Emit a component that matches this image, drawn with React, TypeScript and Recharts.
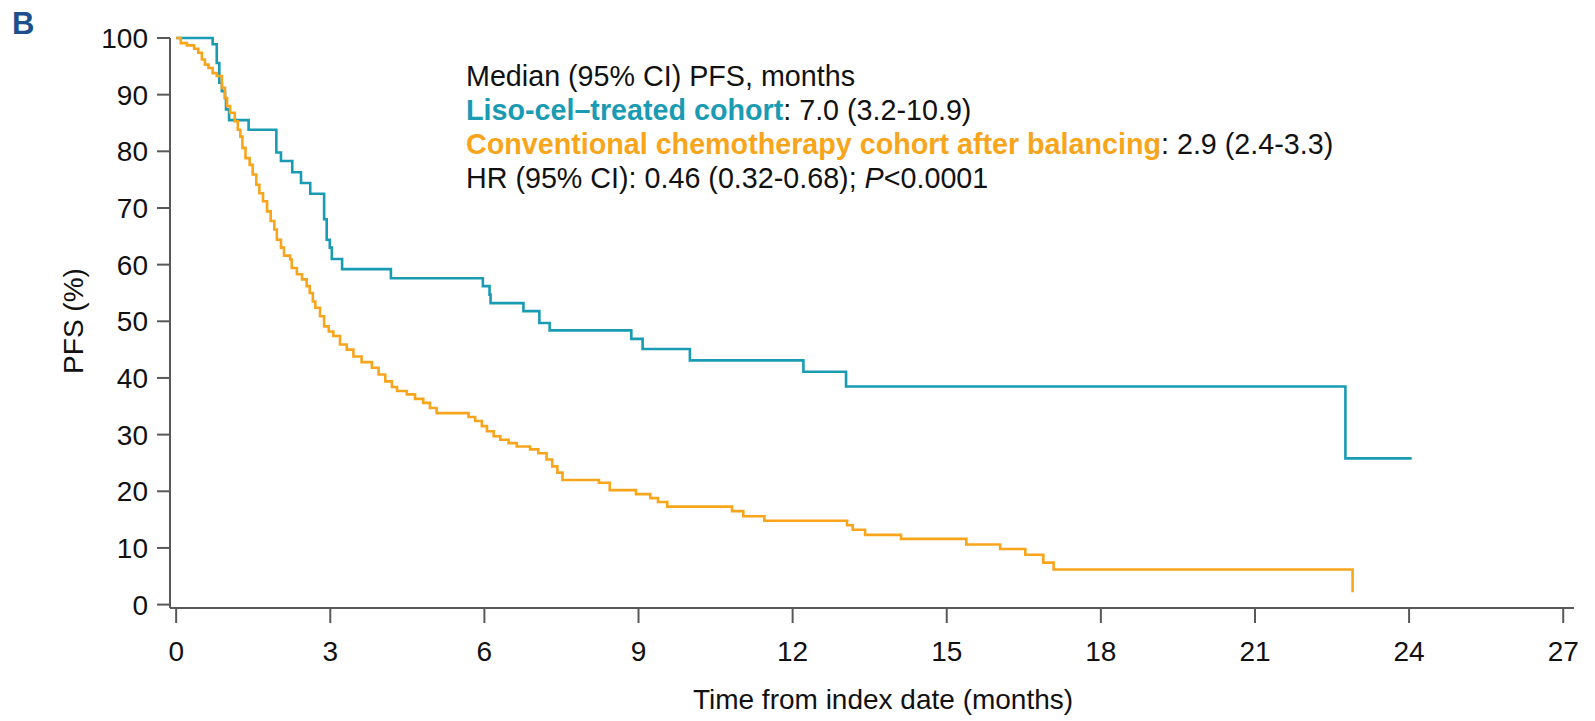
import { LineChart, Line, XAxis, YAxis } from 'recharts';

// Kaplan-Meier steps (months, PFS %)
const lisoTimes = [0, 0.71, 0.79, 0.84, 0.89, 0.95, 0.97, 1.03, 1.41, 1.95, 2.04, 2.26, 2.43, 2.61, 2.88, 2.93, 2.99, 3.03, 3.23, 4.18, 5.97, 6.1, 6.12, 6.76, 7.07, 7.27, 8.86, 9.08, 10.0, 12.21, 13.04, 22.76, 24.05];
const lisoPfs = [100, 98.9, 95.6, 92.1, 90.6, 89.4, 87.4, 85.5, 83.8, 79.8, 78.3, 76.3, 74.4, 72.5, 68.0, 64.4, 63.0, 61.0, 59.2, 57.6, 56.2, 54.7, 53.2, 51.8, 49.7, 48.4, 46.9, 45.1, 43.1, 41.1, 38.5, 25.8, 25.8];

const chemoTimes = [0, 0.09, 0.21, 0.35, 0.43, 0.5, 0.56, 0.63, 0.71, 0.79, 0.89, 0.95, 0.99, 1.05, 1.14, 1.2, 1.25, 1.29, 1.35, 1.43, 1.49, 1.56, 1.62, 1.69, 1.77, 1.84, 1.91, 1.96, 2.04, 2.1, 2.22, 2.25, 2.35, 2.45, 2.54, 2.6, 2.66, 2.71, 2.8, 2.88, 2.97, 3.06, 3.19, 3.32, 3.45, 3.61, 3.81, 3.94, 4.07, 4.2, 4.3, 4.49, 4.65, 4.81, 4.94, 5.07, 5.69, 5.82, 5.95, 6.05, 6.18, 6.31, 6.47, 6.63, 6.89, 7.05, 7.21, 7.32, 7.42, 7.52, 8.23, 8.44, 8.95, 9.23, 9.38, 9.56, 10.82, 11.04, 11.45, 13.06, 13.17, 13.41, 14.11, 15.38, 16.04, 16.53, 16.88, 17.08, 22.9];
const chemoPfs = [100, 99.1, 98.7, 98.1, 97.4, 96.2, 95.3, 94.7, 93.8, 93.3, 91.2, 89.4, 88.0, 86.8, 85.3, 83.8, 82.6, 80.6, 78.8, 77.6, 75.9, 74.1, 72.6, 71.2, 69.4, 67.7, 66.2, 64.4, 63.0, 61.6, 60.9, 59.4, 58.3, 57.4, 56.2, 55.0, 53.5, 52.4, 50.9, 49.1, 48.2, 47.4, 45.9, 45.0, 43.8, 42.8, 41.8, 40.6, 39.4, 38.4, 37.7, 37.1, 36.3, 35.6, 34.7, 33.8, 33.1, 32.4, 31.5, 30.6, 29.7, 29.1, 28.5, 27.9, 27.4, 26.7, 25.6, 24.4, 23.3, 22.0, 21.5, 20.2, 19.5, 18.8, 18.1, 17.3, 16.5, 15.6, 14.8, 14.0, 13.2, 12.3, 11.6, 10.6, 9.8, 8.8, 7.4, 6.2, 2.2];

const xTicks = [0, 3, 6, 9, 12, 15, 18, 21, 24, 27];
const yTicks = [0, 10, 20, 30, 40, 50, 60, 70, 80, 90, 100];

const TEAL = '#1a9bb4';
const ORANGE = '#f8a51b';
const AXIS = '#58585a';
const FONT = '"Liberation Sans", Arial, sans-serif';

const liso = lisoTimes.map((t, i) => ({ t, v: lisoPfs[i] }));
const chemo = chemoTimes.map((t, i) => ({ t, v: chemoPfs[i] }));

export default function App() {
  const tickStyle = { fontSize: 28, fill: '#111', fontFamily: FONT };
  return (
    <div style={{ position: 'absolute', left: 0, top: 0, width: 1595, height: 721, background: '#fff', fontFamily: FONT }}>
      <LineChart width={1595} height={721} margin={{ top: 38, right: 21, left: 0, bottom: 0 }}>
        <XAxis
          dataKey="t"
          type="number"
          domain={[-0.12, 27.21]}
          ticks={xTicks}
          height={113}
          axisLine={{ stroke: AXIS, strokeWidth: 2 }}
          tickLine={{ stroke: AXIS, strokeWidth: 2 }}
          tickSize={15}
          tickMargin={18}
          tick={tickStyle}
        />
        <YAxis
          type="number"
          domain={[-0.6, 100]}
          ticks={yTicks}
          width={170}
          axisLine={{ stroke: AXIS, strokeWidth: 2 }}
          tickLine={{ stroke: AXIS, strokeWidth: 2 }}
          tickSize={13}
          tickMargin={9}
          tick={tickStyle}
        />
        <Line data={liso} dataKey="v" type="stepAfter" stroke={TEAL} strokeWidth={2.6} dot={false} isAnimationActive={false} />
        <Line data={chemo} dataKey="v" type="stepAfter" stroke={ORANGE} strokeWidth={2.6} dot={false} isAnimationActive={false} />
      </LineChart>

      <div style={{ position: 'absolute', left: 12, top: 6, fontSize: 31, fontWeight: 700, color: '#1d4f8c' }}>B</div>

      <div style={{ position: 'absolute', left: 466, top: 59, fontSize: 28.7, lineHeight: '34px', color: '#111', whiteSpace: 'nowrap' }}>
        <div>Median (95% CI) PFS, months</div>
        <div><b style={{ color: TEAL }}>Liso-cel–treated cohort</b>: 7.0 (3.2-10.9)</div>
        <div><b style={{ color: ORANGE }}>Conventional chemotherapy cohort after balancing</b>: 2.9 (2.4-3.3)</div>
        <div>HR (95% CI): 0.46 (0.32-0.68); <i>P</i>&lt;0.0001</div>
      </div>

      <div style={{ position: 'absolute', left: 74, top: 321, transform: 'translate(-50%, -50%) rotate(-90deg)', fontSize: 28, color: '#111', whiteSpace: 'nowrap' }}>PFS (%)</div>
      <div style={{ position: 'absolute', left: 883, top: 700, transform: 'translate(-50%, -50%)', fontSize: 28, color: '#111', whiteSpace: 'nowrap' }}>Time from index date (months)</div>
    </div>
  );
}
